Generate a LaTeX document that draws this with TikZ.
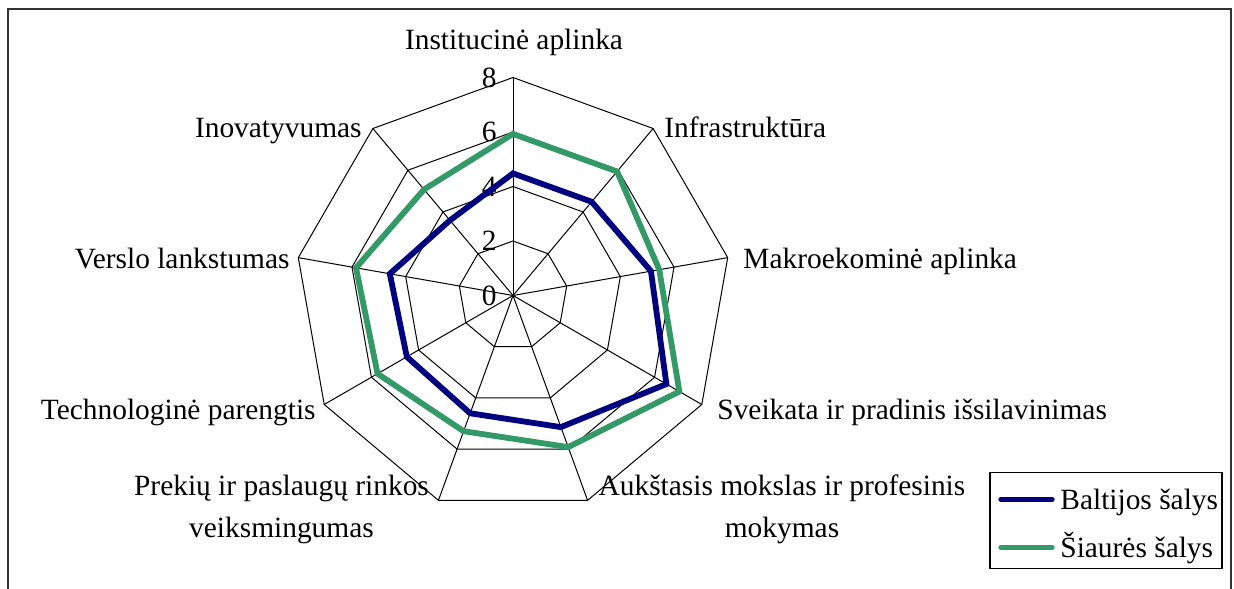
\documentclass[tikz,border=0pt]{standalone}
\usepackage{fontspec}
\setmainfont{Liberation Serif}
\definecolor{balticblue}{RGB}{0,0,128}
\definecolor{nordicgreen}{RGB}{51,153,102}
\begin{document}
\begin{tikzpicture}[x=0.5pt,y=0.5pt,
  grid/.style={draw=black,line width=0.5pt},
  series/.style={line width=2.9pt,line join=miter},
  baltic/.style={series,draw=balticblue},
  nordic/.style={series,draw=nordicgreen},
  lbl/.style={font=\fontsize{14.7}{20.85}\selectfont,inner sep=0pt},
  keyline/.style={line width=2.7pt,line cap=round},
]
\useasboundingbox (0,0) rectangle (1234,588);
\fill[white] (0,0) rectangle (1234,588);
% chart area frame
\draw[black!80,line width=1pt] (8,-10) -- (8,579) -- (1231,579) -- (1231,-10);

\begin{scope}[shift={(513,292.5)}]
  \coordinate (O) at (0,0);
  % web: rings at 2, 4, 6, 8 (27.25 px per unit)
  \foreach \r in {54.5,109,163.5,218}
    \draw[grid] (90:\r) \foreach \i in {1,...,8} { -- (90-40*\i:\r) } -- cycle;
  \foreach \i in {0,...,8}
    \draw[grid] (O) -- (90-40*\i:218);
  % scale values
  \foreach \v/\r in {0/0,2/54.5,4/109,6/163.5,8/218}
    \node[lbl,anchor=east] (tick\v) at (-16,\r) {\v};
  % Baltic countries
  \draw[baltic] (90:{4.48*27.25}) -- (50:{4.49*27.25}) -- (10:{5.14*27.25})
    -- (-30:{6.5*27.25}) -- (-70:{5.14*27.25}) -- (-110:{4.6*27.25})
    -- (-150:{4.5*27.25}) -- (170:{4.59*27.25}) -- (130:{3.6*27.25}) -- cycle;
  % Nordic countries
  \draw[nordic] (90:{5.93*27.25}) -- (50:{5.94*27.25}) -- (10:{5.45*27.25})
    -- (-30:{7.05*27.25}) -- (-70:{5.92*27.25}) -- (-110:{5.3*27.25})
    -- (-150:{5.74*27.25}) -- (170:{5.85*27.25}) -- (130:{5.08*27.25}) -- cycle;
\end{scope}

% axis labels
\node[lbl,anchor=base] (inst) at (514,538.7) {Institucinė aplinka};
\node[lbl,anchor=base west] (infra) at (664,450.5) {Infrastruktūra};
\node[lbl,anchor=base west] (makro) at (743,319.5) {Makroekominė aplinka};
\node[lbl,anchor=base west] (sveik) at (717,168.5) {Sveikata ir pradinis išsilavinimas};
\node[lbl,align=center] (aukst) at (782,78.8) {Aukštasis mokslas ir profesinis\\mokymas};
\node[lbl,align=center] (prek) at (281.5,78.3) {Prekių ir paslaugų rinkos\\veiksmingumas};
\node[lbl,anchor=base east] (tech) at (316,168.5) {Technologinė parengtis};
\node[lbl,anchor=base east] (versl) at (290,319.5) {Verslo lankstumas};
\node[lbl,anchor=base east] (inov) at (362,450.5) {Inovatyvumas};

% legend
\draw[black,line width=0.6pt] (990,19.7) rectangle (1222,115.3);
\coordinate (kb1) at (1001,88.7);
\coordinate (kb2) at (1052,88.7);
\coordinate (kn1) at (1001,40.7);
\coordinate (kn2) at (1052,40.7);
\draw[keyline,balticblue] (kb1) -- (kb2);
\draw[keyline,nordicgreen] (kn1) -- (kn2);
\node[lbl,anchor=base west] (kbt) at (1060,78) {Baltijos šalys};
\node[lbl,anchor=base west] (knt) at (1060,30.3) {Šiaurės šalys};
\end{tikzpicture}
\end{document}
